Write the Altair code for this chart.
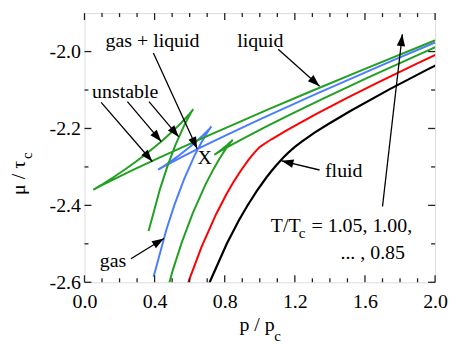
import math
import altair as alt
import pandas as pd

# ---------------- data ----------------
X_TICKS = [0.0, 0.4, 0.8, 1.2, 1.6, 2.0]
X_MINOR = [0.1, 0.2, 0.3, 0.5, 0.6, 0.7, 0.9, 1.0, 1.1, 1.3, 1.4, 1.5, 1.7, 1.8, 1.9]
Y_TICKS = [-2.6, -2.4, -2.2, -2.0]
Y_MINOR = [-2.5, -2.3, -2.1]

# T/Tc = 1.05
T105_P = [0.639, 0.7167, 0.8123, 0.8802, 0.93, 0.9832, 1.0387, 1.0667, 1.0944, 1.1345,
          1.1601, 1.1859, 1.2, 1.2375, 1.3125, 1.3867, 1.5139, 1.7415, 1.9631, 2.1667]
T105_MU = [-2.6914, -2.5974, -2.4991, -2.4394, -2.4002, -2.3623, -2.3269, -2.3107, -2.2956, -2.2756,
           -2.2641, -2.2535, -2.2481, -2.2348, -2.2110, -2.1896, -2.1551, -2.0977, -2.0450, -1.9984]
# T/Tc = 1.00
T100_P = [0.5398, 0.5972, 0.6667, 0.7508, 0.8087, 0.85, 0.8923, 0.9334, 0.9524, 0.9694, 0.9891,
          0.9969, 1.0, 1.0022, 1.0090, 1.0268, 1.0667, 1.1503, 1.3205, 1.4980, 1.6667, 1.8929, 2.1984]
T100_MU = [-2.6745, -2.5939, -2.5094, -2.4230, -2.3719, -2.3394, -2.3093, -2.2831, -2.2720, -2.2628, -2.2530,
           -2.2494, -2.2481, -2.2474, -2.2452, -2.2397, -2.2281, -2.2055, -2.1626, -2.1204, -2.0819, -2.0319, -1.9666]
# T/Tc = 0.95
T095_P = [0.4229, 0.5034, 0.5551, 0.6167, 0.6892, 0.7373, 0.77, 0.8013, 0.8156, 0.8281, 0.8381,
          0.8444, 0.8458, 0.8436, 0.8336, 0.8138, 0.8, 0.7840, 0.7669, 0.7510, 0.7411, 0.7407,
          0.7467, 0.7647, 0.7866, 0.8417, 0.8994, 1.0328, 1.1667, 1.3523, 1.6101, 1.9700, 2.4768]
T095_MU = [-2.704, -2.5689, -2.4963, -2.4215, -2.3468, -2.3045, -2.2787, -2.2564, -2.2470, -2.2393, -2.2334,
           -2.2300, -2.2293, -2.2303, -2.2348, -2.2429, -2.2482, -2.2541, -2.2600, -2.2652, -2.2683, -2.2684,
           -2.2667, -2.2618, -2.2559, -2.2418, -2.2276, -2.1958, -2.1653, -2.1242, -2.0692, -1.9950, -1.8944]
# T/Tc = 0.90
T090_P = [0.3943, 0.4670, 0.5130, 0.5667, 0.6277, 0.6659, 0.69, 0.7104, 0.7180, 0.7229, 0.7240, 0.7238,
          0.7194, 0.7121, 0.6982, 0.6703, 0.6277, 0.6, 0.5678, 0.5316, 0.4929, 0.4554, 0.4267, 0.4199,
          0.4230, 0.4457, 0.4784, 0.5677, 0.6667, 0.8118, 1.0219, 1.3248, 1.7625, 2.0509, 2.4]
T090_MU = [-2.5854, -2.4633, -2.3988, -2.3335, -2.2707, -2.2370, -2.2180, -2.2034, -2.1984, -2.1954, -2.1947, -2.1948,
           -2.1972, -2.2010, -2.2077, -2.2202, -2.2377, -2.2483, -2.2601, -2.2727, -2.2853, -2.2970, -2.3053, -2.3072,
           -2.3064, -2.3006, -2.2925, -2.2713, -2.2487, -2.2166, -2.1717, -2.1093, -2.0224, -1.9668, -1.9007]
# T/Tc = 0.85
T085_P = [0.3657, 0.4307, 0.4709, 0.5167, 0.5662, 0.5945, 0.61, 0.6195, 0.6205, 0.6176, 0.6095, 0.5944,
          0.5527, 0.5071, 0.4417, 0.4, 0.3516, 0.2963, 0.2348, 0.1696, 0.1067, 0.0750, 0.0594, 0.0497,
          0.0573, 0.1026, 0.1667, 0.2712, 0.4337, 0.6797, 1.0482, 1.2962, 1.6, 1.9733, 2.4337]
T085_MU = [-2.4667, -2.3577, -2.3012, -2.2455, -2.1945, -2.1695, -2.1573, -2.1504, -2.1498, -2.1516, -2.1562, -2.1644,
           -2.1850, -2.2055, -2.2324, -2.2484, -2.2661, -2.2853, -2.3054, -2.3256, -2.3439, -2.3526, -2.3568, -2.3593,
           -2.3575, -2.3467, -2.3321, -2.3090, -2.2743, -2.2236, -2.1505, -2.1026, -2.0451, -1.9758, -1.8921]

# annotation labels
LABELS = ["gas + liquid", "unstable", "liquid", "fluid", "gas", "X"]
LABEL_P = [0.388, 0.232, 1.003, 1.479, 0.163, 0.686]
LABEL_MU = [-1.988, -2.120, -1.987, -2.326, -2.559, -2.293]

# arrows: tail -> head
ARROW_P1 = [0.393, 0.095, 0.245, 0.368, 1.105, 1.341, 0.265, 1.700]
ARROW_MU1 = [-2.004, -2.132, -2.130, -2.130, -1.994, -2.308, -2.539, -2.403]
ARROW_P2 = [0.643, 0.387, 0.438, 0.538, 1.341, 1.124, 0.453, 1.813]
ARROW_MU2 = [-2.253, -2.286, -2.234, -2.222, -2.090, -2.284, -2.486, -1.955]

TLABEL_1 = ["T/T", "c", "= 1.05, 1.00,"]
TLABEL_2 = "... , 0.85"

# ---------------- styling ----------------
W, H = 353, 271
FONT = "Times New Roman"
FS = 20
SUB = 15
XMIN, XMAX = 0.0, 2.0
YMIN, YMAX = -2.6, -1.9
GREEN = "#22a022"
BLUE = "#4a7dff"

xs = alt.Scale(domain=[XMIN, XMAX], nice=False, zero=False)
ys = alt.Scale(domain=[YMIN, YMAX], nice=False, zero=False)

xaxis = alt.Axis(values=X_TICKS, labelExpr="format(datum.value, '.1f')", ticks=False, tickSize=0,
                 domain=False, grid=False, title=None, labelPadding=9, labelFlush=False,
                 labelOverlap=False, labelFont=FONT, labelFontSize=FS, labelColor="black")
yaxis = alt.Axis(values=Y_TICKS,
                 labelExpr="(datum.value < 0 ? '-' : '') + format(abs(datum.value), '.1f')",
                 ticks=False, tickSize=0, domain=False, grid=False, title=None, labelPadding=4,
                 labelFlush=False, labelOverlap=False, labelFont=FONT, labelFontSize=FS,
                 labelColor="black")


def X(f):
    return alt.X(f, scale=xs, axis=xaxis)


def Y(f):
    return alt.Y(f, scale=ys, axis=yaxis)


curves = [
    (T105_P, T105_MU, "#000000", 2.2),
    (T100_P, T100_MU, "#ff0000", 2.0),
    (T095_P, T095_MU, GREEN, 2.0),
    (T090_P, T090_MU, BLUE, 2.0),
    (T085_P, T085_MU, GREEN, 2.0),
]

layers = []
for P, M, col, sw in curves:
    df = pd.DataFrame({"p": P, "mu": M, "i": list(range(len(P)))})
    layers.append(
        alt.Chart(df).mark_line(color=col, strokeWidth=sw, clip=True).encode(
            x=X("p:Q"), y=Y("mu:Q"), order=alt.Order("i:Q"))
    )


# tick marks pointing inward on all four sides
def xticks(vals, length):
    d = pd.DataFrame({"v": vals})
    base = alt.Chart(d).mark_rule(color="#222", strokeWidth=1.3)
    return [
        base.encode(x=X("v:Q"), y=alt.value(H), y2=alt.value(H - length)),
        base.encode(x=X("v:Q"), y=alt.value(0), y2=alt.value(length)),
    ]


def yticks(vals, length):
    d = pd.DataFrame({"v": vals})
    base = alt.Chart(d).mark_rule(color="#222", strokeWidth=1.3)
    return [
        base.encode(y=Y("v:Q"), x=alt.value(0), x2=alt.value(length)),
        base.encode(y=Y("v:Q"), x=alt.value(W), x2=alt.value(W - length)),
    ]


layers += xticks(X_TICKS, 7) + xticks(X_MINOR, 4) + yticks(Y_TICKS, 7) + yticks(Y_MINOR, 4)

# arrows
arr = pd.DataFrame({"x": ARROW_P1, "y": ARROW_MU1, "x2": ARROW_P2, "y2": ARROW_MU2})
angs = []
for a, b, c, d in zip(ARROW_P1, ARROW_MU1, ARROW_P2, ARROW_MU2):
    dx = (c - a) / (XMAX - XMIN) * W
    dy = -(d - b) / (YMAX - YMIN) * H
    angs.append((math.degrees(math.atan2(dx, -dy)) + 360.0) % 360.0)
arr["ang"] = angs
layers.append(
    alt.Chart(arr).mark_rule(color="black", strokeWidth=1.3).encode(
        x=X("x:Q"), y=Y("y:Q"), x2="x2:Q", y2="y2:Q")
)
layers.append(
    alt.Chart(arr).mark_point(shape="M0,0L-0.7,2L0.7,2Z", filled=True, color="black",
                              opacity=1, size=144, strokeWidth=0).encode(
        x=X("x2:Q"), y=Y("y2:Q"), angle=alt.Angle("ang:Q", scale=None))
)

# labels
lab = pd.DataFrame({"t": LABELS, "x": LABEL_P, "y": LABEL_MU})
layers.append(
    alt.Chart(lab).mark_text(font=FONT, fontSize=FS, align="center", baseline="alphabetic",
                             color="black").encode(x=X("x:Q"), y=Y("y:Q"), text="t:N")
)

# temperature legend text
tl = pd.DataFrame({"x": [1.063], "y": [-2.468]})
tdx = [0, 28, 41]
tdy = [0, 7, 0]
tsz = [FS, SUB, FS]
for s, ddx, ddy, sz in zip(TLABEL_1, tdx, tdy, tsz):
    layers.append(
        alt.Chart(tl).mark_text(text=s, font=FONT, fontSize=sz, align="left", baseline="alphabetic",
                                dx=ddx, dy=ddy, color="black").encode(x=X("x:Q"), y=Y("y:Q"))
    )
tl2 = pd.DataFrame({"x": [1.460], "y": [-2.5407]})
layers.append(
    alt.Chart(tl2).mark_text(text=TLABEL_2, font=FONT, fontSize=FS, align="left",
                             baseline="alphabetic", color="black").encode(x=X("x:Q"), y=Y("y:Q"))
)

# axis titles (with subscript c)
one = pd.DataFrame({"a": [0]})
layers.append(alt.Chart(one).mark_text(text="p / p", font=FONT, fontSize=FS, align="left",
                                       baseline="alphabetic", color="black").encode(
    x=alt.value(156), y=alt.value(320)))
layers.append(alt.Chart(one).mark_text(text="c", font=FONT, fontSize=SUB, align="left",
                                       baseline="alphabetic", color="black").encode(
    x=alt.value(191), y=alt.value(330)))
layers.append(alt.Chart(one).mark_text(text="μ / τ", font=FONT, fontSize=FS, align="left",
                                       baseline="alphabetic", angle=270, color="black").encode(
    x=alt.value(-60), y=alt.value(183)))
layers.append(alt.Chart(one).mark_text(text="c", font=FONT, fontSize=SUB, align="left",
                                       baseline="alphabetic", angle=270, dx=36, dy=7,
                                       color="black").encode(
    x=alt.value(-60), y=alt.value(183)))

chart = alt.layer(*layers).properties(
    width=W, height=H,
    padding={"left": 77, "top": 4, "right": 14, "bottom": 62},
    autosize=alt.AutoSizeParams(type="none"),
).configure_view(stroke="#222", strokeWidth=2).configure(font=FONT)

chart.save("out.html", embed_options={"renderer": "svg", "actions": False})
